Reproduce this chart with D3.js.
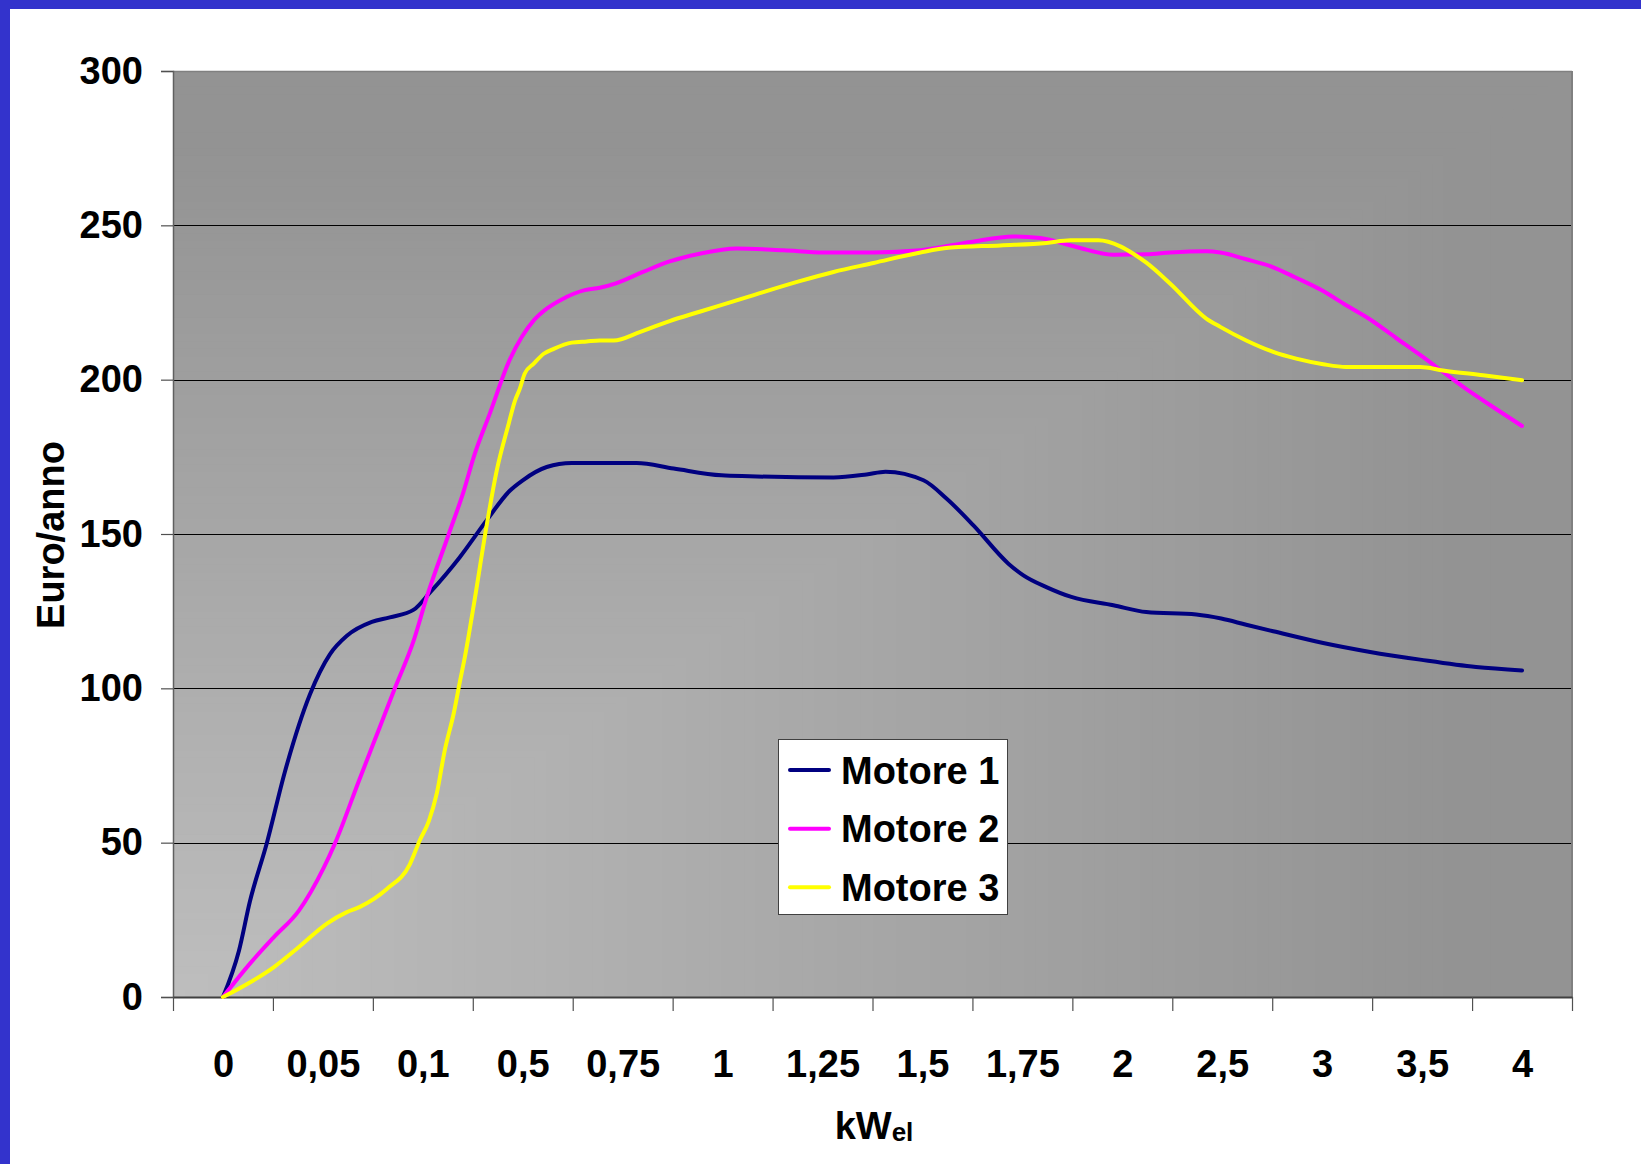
<!DOCTYPE html>
<html>
<head>
<meta charset="utf-8">
<script src="https://cdn.jsdelivr.net/npm/d3@7"></script>
<style>
  html, body { margin: 0; padding: 0; background: #ffffff; }
  svg { display: block; }
  text { font-family: "Liberation Sans", Arial, sans-serif; font-weight: bold; fill: #000; }
</style>
</head>
<body>
<script>
// ---- Data (x = category position, y = Euro/anno) ----
const categories = ["0", "0,05", "0,1", "0,5", "0,75", "1", "1,25", "1,5", "1,75", "2", "2,5", "3", "3,5", "4"];
const yTicks = [0, 50, 100, 150, 200, 250, 300];
const seriesNames = ["Motore 1", "Motore 2", "Motore 3"];
const seriesColors = ["#000080", "#ff00ff", "#ffff00"];

const motore1 = [[0,0],[0.16,15],[0.27,31],[0.44,50],[0.62,73],[0.87,98],[1.07,111],[1.24,117],[1.49,121.5],[1.67,123],[1.91,125.5],[2.07,131],[2.37,142.5],[2.64,154.5],[2.87,164],[3.0,167.4],[3.24,171.7],[3.49,173],[4.14,173],[4.51,171.2],[4.99,169],[5.27,168.7],[6.11,168.3],[6.44,169.3],[6.63,170.2],[7.01,167.4],[7.24,161.5],[7.51,152.8],[7.86,140.4],[8.01,136.6],[8.24,132.8],[8.49,129.6],[8.91,126.9],[9.24,124.7],[9.74,123.9],[9.99,122.6],[10.24,120.6],[10.51,118.5],[11.01,114.7],[11.48,111.8],[11.98,109.3],[12.54,106.9],[13,105.8]];

const motore2 = [[0,0],[0.27,10.8],[0.51,19.4],[0.76,28],[1.01,42],[1.12,49.7],[1.36,70],[1.57,87.5],[1.72,100],[1.91,115.6],[2.04,129.6],[2.26,150],[2.41,164],[2.51,175],[2.67,189],[2.87,206.5],[2.99,213.8],[3.11,219.2],[3.24,223],[3.39,226],[3.62,229],[3.77,229.8],[3.94,231.3],[4.21,235],[4.47,238.3],[4.77,240.8],[5.14,242.5],[5.61,241.9],[6.01,241.2],[6.51,241.2],[6.98,241.9],[7.48,244.6],[7.91,246.4],[8.18,245.9],[8.54,243],[8.91,240.5],[9.24,240.6],[9.48,241.2],[9.84,241.6],[9.98,241.2],[10.24,239],[10.48,236.8],[10.74,233],[11.01,228.7],[11.24,224.1],[11.48,219.5],[11.74,213.5],[11.98,208],[12.21,202.5],[12.44,197],[12.74,190.5],[13,185]];

const motore3 = [[0,0],[0.51,9.7],[0.76,16.2],[1.04,23.8],[1.24,27.5],[1.37,29.2],[1.64,35],[1.87,43],[1.97,50.8],[2.06,57],[2.14,66],[2.22,80],[2.31,92],[2.37,102],[2.42,110],[2.51,127],[2.64,153],[2.74,170.6],[2.86,185.8],[2.92,193],[2.97,197],[3.02,202],[3.11,205.2],[3.21,208.4],[3.31,210],[3.49,212],[3.64,212.4],[3.77,212.7],[3.91,212.7],[4.17,215.4],[4.47,219],[4.77,222],[5.27,227],[5.78,232],[6.11,234.9],[6.51,237.8],[6.98,241.2],[7.26,242.7],[7.78,243.5],[8.24,244.3],[8.48,245.2],[8.76,245.2],[8.98,243.2],[9.11,240.8],[9.24,237.9],[9.48,231.1],[9.84,219.8],[9.98,217.1],[10.24,212.7],[10.51,209],[10.74,206.8],[11.01,205],[11.24,204.1],[11.98,204.1],[12.21,203],[12.61,201.4],[13,199.8]];

const allSeries = [motore1, motore2, motore3];

// ---- Layout ----
const W = 1641, H = 1164;
const plot = { left: 173, top: 71, right: 1572, bottom: 997 };
const pw = plot.right - plot.left, ph = plot.bottom - plot.top;
const FONT = 38;

const svg = d3.select("body").append("svg").attr("width", W).attr("height", H);

// Frame (blue border on top and left)
svg.append("rect").attr("x", 0).attr("y", 0).attr("width", W).attr("height", 9).attr("fill", "#3333cc");
svg.append("rect").attr("x", 0).attr("y", 0).attr("width", 10).attr("height", H).attr("fill", "#3333cc");

// Scales
const x = d3.scaleLinear().domain([-0.5, categories.length - 0.5]).range([plot.left, plot.right]);
const y = d3.scaleLinear().domain([0, 300]).range([plot.bottom, plot.top]);

// Plot background: "from corner" gradient, lightest at bottom-left
const bg = svg.append("g");
const N = 120;
const shade = d3.interpolateRgb("#bebebe", "#939393");
for (let i = N; i >= 1; i--) {
  const t = i / N;
  bg.append("rect")
    .attr("x", plot.left)
    .attr("y", plot.bottom - t * ph)
    .attr("width", t * pw)
    .attr("height", t * ph)
    .attr("fill", shade(Math.min(1, t / 0.92)));
}

// Gridlines
svg.append("g")
  .selectAll("line")
  .data(yTicks.filter(v => v > 0 && v < 300))
  .join("line")
  .attr("x1", plot.left).attr("x2", plot.right)
  .attr("y1", d => Math.round(y(d)) + 0.5).attr("y2", d => Math.round(y(d)) + 0.5)
  .attr("stroke", "#000").attr("stroke-width", 1);

// Plot border (top/right)
svg.append("line").attr("x1", plot.left).attr("x2", plot.right).attr("y1", plot.top + 0.5).attr("y2", plot.top + 0.5)
  .attr("stroke", "#808080").attr("stroke-width", 1.5);
svg.append("line").attr("x1", plot.right).attr("x2", plot.right).attr("y1", plot.top).attr("y2", plot.bottom)
  .attr("stroke", "#808080").attr("stroke-width", 2);

// Y axis
const yAxis = svg.append("g")
  .attr("transform", `translate(${plot.left},0)`)
  .call(d3.axisLeft(y).tickValues(yTicks).tickSize(12).tickPadding(18));
yAxis.select(".domain").attr("stroke", "#606060").attr("stroke-width", 1.5);
yAxis.selectAll(".tick line").attr("stroke", "#505050").attr("stroke-width", 1.2);
yAxis.selectAll("text").style("font-size", FONT + "px").attr("font-weight", "bold");

// X axis: tick marks at category boundaries
const xTicks = svg.append("g")
  .attr("transform", `translate(0,${plot.bottom})`)
  .call(d3.axisBottom(x).tickValues(d3.range(-0.5, categories.length, 1)).tickFormat("").tickSize(14).tickSizeOuter(0));
xTicks.select(".domain").attr("stroke", "#404040").attr("stroke-width", 2);
xTicks.selectAll(".tick line").attr("stroke", "#505050").attr("stroke-width", 1.2);

// X axis: category labels centered between ticks
const xLabels = svg.append("g")
  .attr("transform", `translate(0,${plot.bottom})`)
  .call(d3.axisBottom(x).tickValues(d3.range(0, categories.length)).tickFormat(i => categories[i]).tickSize(0).tickPadding(53));
xLabels.select(".domain").remove();
xLabels.selectAll("text").style("font-size", FONT + "px").attr("font-weight", "bold");

// Axis titles
svg.append("text")
  .attr("transform", `translate(64,535) rotate(-90)`)
  .attr("text-anchor", "middle")
  .style("font-size", FONT + "px")
  .text("Euro/anno");

const xt = svg.append("text")
  .attr("x", 874).attr("y", 1139)
  .attr("text-anchor", "middle")
  .style("font-size", FONT + "px");
xt.append("tspan").text("kW");
xt.append("tspan").attr("dy", 2).style("font-size", "26px").text("el");

// Lines
const line = d3.line().x(d => x(d[0])).y(d => y(d[1])).curve(d3.curveMonotoneX);
svg.append("g")
  .selectAll("path")
  .data(allSeries)
  .join("path")
  .attr("d", line)
  .attr("fill", "none")
  .attr("stroke", (d, i) => seriesColors[i])
  .attr("stroke-width", 4)
  .attr("stroke-linejoin", "round")
  .attr("stroke-linecap", "round");

// Legend
const lg = svg.append("g");
lg.append("rect")
  .attr("x", 778.5).attr("y", 739.5).attr("width", 229).attr("height", 175)
  .attr("fill", "#ffffff").attr("stroke", "#404040").attr("stroke-width", 1);
const rowY = [770, 828.7, 887.3];
seriesNames.forEach((name, i) => {
  lg.append("line")
    .attr("x1", 790).attr("x2", 829)
    .attr("y1", rowY[i]).attr("y2", rowY[i])
    .attr("stroke", seriesColors[i]).attr("stroke-width", 4).attr("stroke-linecap", "round");
  lg.append("text")
    .attr("x", 841).attr("y", rowY[i]).attr("dy", "0.36em")
    .style("font-size", FONT + "px")
    .text(name);
});
</script>
</body>
</html>
